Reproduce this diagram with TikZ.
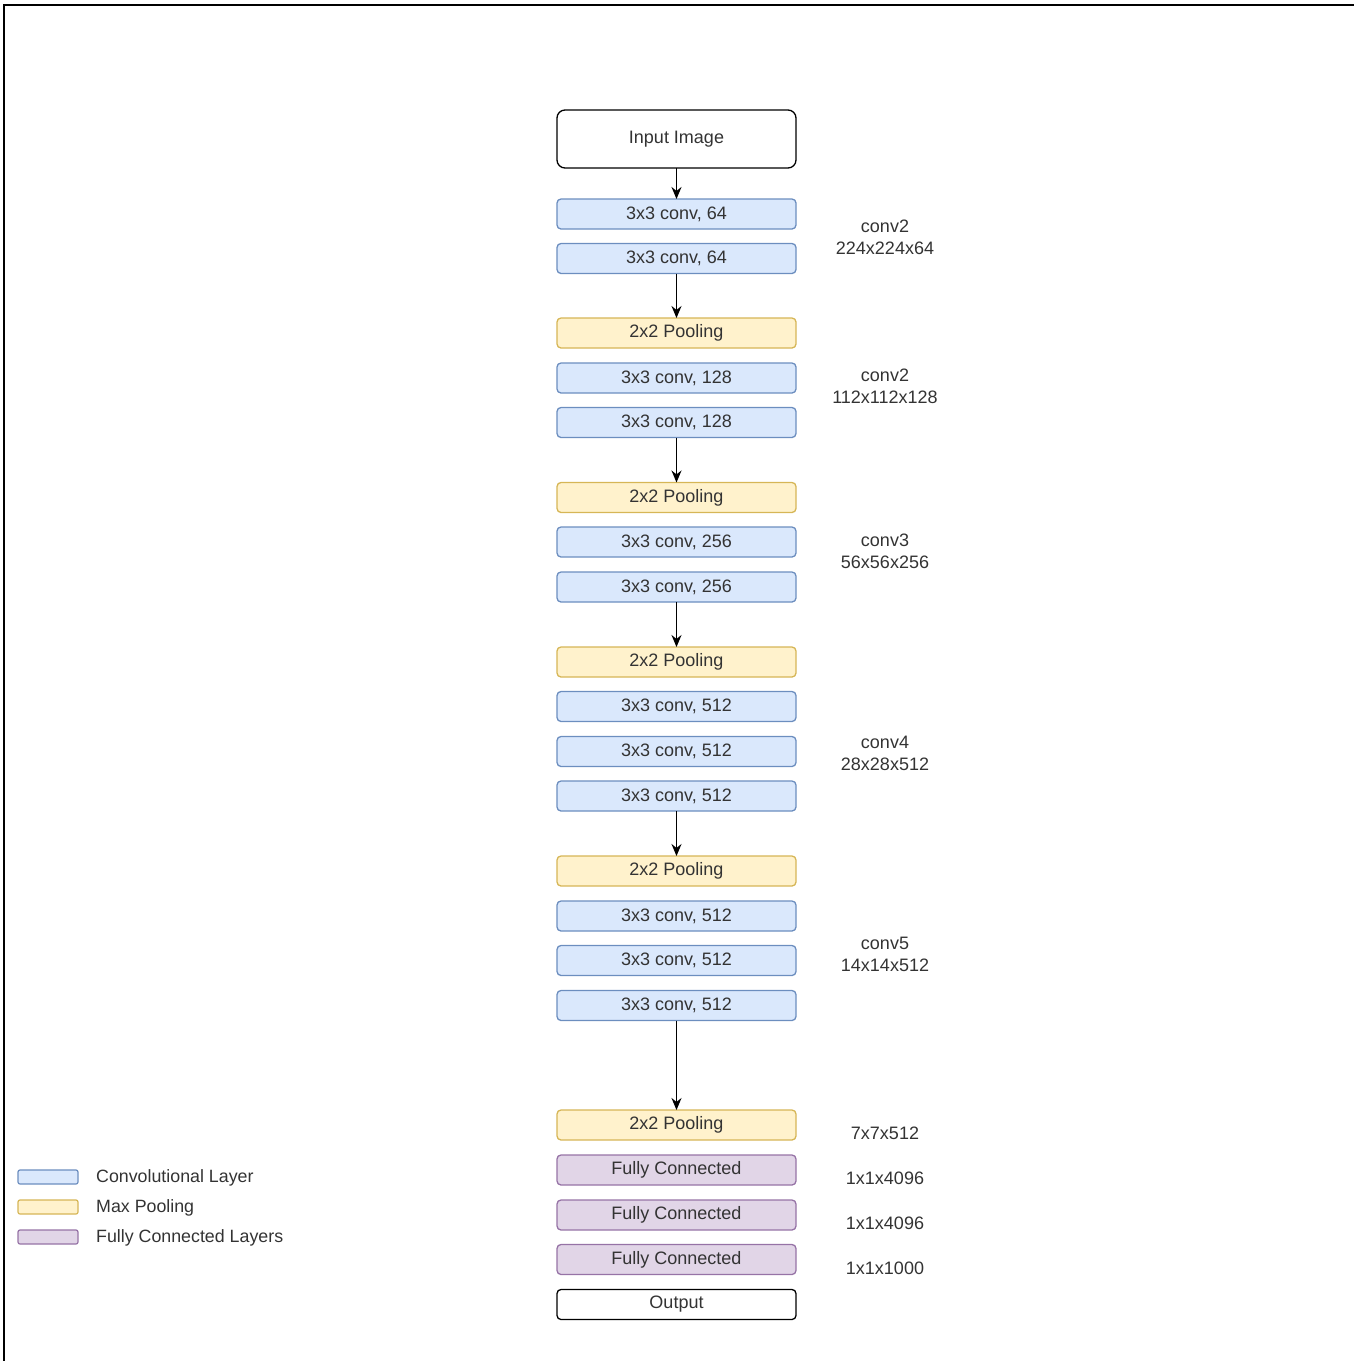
\documentclass[tikz,border=0pt]{standalone}
\usepackage{fontspec}
\setmainfont{Liberation Sans}
\usetikzlibrary{arrows.meta}
\definecolor{convfill}{HTML}{DAE8FC}
\definecolor{convline}{HTML}{6C8EBF}
\definecolor{poolfill}{HTML}{FFF2CC}
\definecolor{poolline}{HTML}{D6B656}
\definecolor{fcfill}{HTML}{E1D5E7}
\definecolor{fcline}{HTML}{9673A6}
\definecolor{txt}{HTML}{333333}
\tikzset{
  layer/.style={draw, line width=1.3pt, rounded corners=4pt, minimum width=239pt,
    minimum height=30pt, inner sep=0pt, outer sep=0pt, text=txt,
    font=\fontsize{18}{20}\selectfont},
  conv/.style={layer, fill=convfill, draw=convline},
  pool/.style={layer, fill=poolfill, draw=poolline},
  fc/.style={layer, fill=fcfill, draw=fcline},
  plain/.style={layer, fill=white, draw=black},
  info/.style={align=center, text=txt, inner sep=0pt, font=\fontsize{18}{22}\selectfont},
  swatch/.style={draw, line width=1.2pt, rounded corners=2pt, minimum width=60pt,
    minimum height=14pt, inner sep=0pt},
  legtext/.style={anchor=west, text=txt, inner sep=0pt, font=\fontsize{17.8}{20}\selectfont},
  flow/.style={line width=1.5pt, -{Stealth[length=12pt,width=10pt]}}
}
\begin{document}
\begin{tikzpicture}[x=1pt,y=-1pt]
\useasboundingbox (0,0) rectangle (1354,1361);
% frame
\draw[line width=2pt] (4,1361) -- (4,5) -- (1354,5);

% layer stack
\node[plain, minimum height=58pt, rounded corners=8pt] (in) at (676.5,139) {Input Image};
\node[conv] (c1) at (676.5,214) {3x3 conv, 64};
\node[conv] (c2) at (676.5,258.5) {3x3 conv, 64};
\node[pool] (p1) at (676.5,333) {2x2 Pooling};
\node[conv] (c3) at (676.5,378) {3x3 conv, 128};
\node[conv] (c4) at (676.5,422.5) {3x3 conv, 128};
\node[pool] (p2) at (676.5,497.5) {2x2 Pooling};
\node[conv] (c5) at (676.5,542) {3x3 conv, 256};
\node[conv] (c6) at (676.5,587) {3x3 conv, 256};
\node[pool] (p3) at (676.5,662) {2x2 Pooling};
\node[conv] (c7) at (676.5,706.5) {3x3 conv, 512};
\node[conv] (c8) at (676.5,751.5) {3x3 conv, 512};
\node[conv] (c9) at (676.5,796) {3x3 conv, 512};
\node[pool] (p4) at (676.5,871) {2x2 Pooling};
\node[conv] (c10) at (676.5,916) {3x3 conv, 512};
\node[conv] (c11) at (676.5,960.5) {3x3 conv, 512};
\node[conv] (c12) at (676.5,1005.5) {3x3 conv, 512};
\node[pool] (p5) at (676.5,1125) {2x2 Pooling};
\node[fc] (f1) at (676.5,1170) {Fully Connected};
\node[fc] (f2) at (676.5,1215) {Fully Connected};
\node[fc] (f3) at (676.5,1259.5) {Fully Connected};
\node[plain] (out) at (676.5,1304.5) {Output};

% connectors
\draw[flow] (in) -- (c1);
\draw[flow] (c2) -- (p1);
\draw[flow] (c4) -- (p2);
\draw[flow] (c6) -- (p3);
\draw[flow] (c9) -- (p4);
\draw[flow] (c12) -- (p5);

% block sizes
\node[info] (s1) at (885,237) {conv2\\224x224x64};
\node[info] (s2) at (885,386) {conv2\\112x112x128};
\node[info] (s3) at (885,551) {conv3\\56x56x256};
\node[info] (s4) at (885,753) {conv4\\28x28x512};
\node[info] (s5) at (885,954) {conv5\\14x14x512};
\node[info] (s6) at (885,1133) {7x7x512};
\node[info] (s7) at (885,1178) {1x1x4096};
\node[info] (s8) at (885,1223) {1x1x4096};
\node[info] (s9) at (885,1268) {1x1x1000};

% legend
\node[swatch, fill=convfill, draw=convline] (k1) at (48,1177) {};
\node[swatch, fill=poolfill, draw=poolline] (k2) at (48,1207) {};
\node[swatch, fill=fcfill, draw=fcline] (k3) at (48,1237) {};
\node[legtext] (l1) at (96,1178) {Convolutional Layer};
\node[legtext] (l2) at (96,1208) {Max Pooling};
\node[legtext] (l3) at (96,1238) {Fully Connected Layers};
\end{tikzpicture}
\end{document}
